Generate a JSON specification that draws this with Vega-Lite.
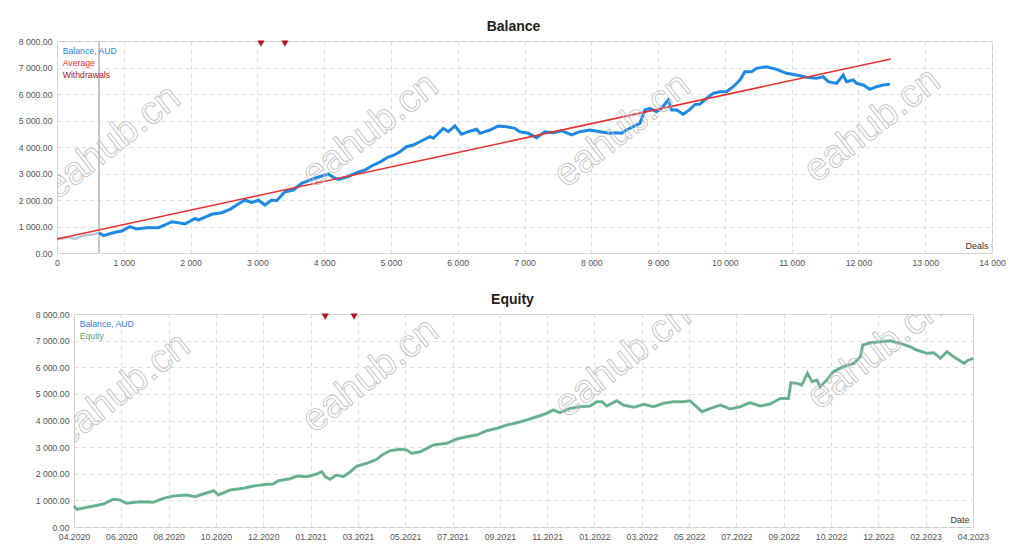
{
  "$schema": "https://vega.github.io/schema/vega-lite/v6.json",
  "padding": {"left": 17, "top": 19, "right": 0, "bottom": 0},
  "background": "white",
  "spacing": 24,
  "config": {
    "font": "Liberation Sans",
    "view": {"stroke": "#c8c8c8"},
    "axis": {
      "labelFont": "Liberation Sans",
      "labelFontSize": 8.7,
      "labelColor": "#555555",
      "domain": false,
      "ticks": false,
      "grid": true,
      "gridColor": "#dddddd",
      "gridDash": [4, 4],
      "labelPadding": 5,
      "titleFont": "Liberation Sans",
      "titleFontSize": 9,
      "titleFontWeight": "normal",
      "titleColor": "#333333"
    },
    "title": {
      "font": "Liberation Sans",
      "fontSize": 14,
      "fontWeight": "bold",
      "color": "#222222",
      "offset": 3,
      "frame": "group",
      "dx": -11
    }
  },
  "resolve": {"scale": {"color": "independent"}},
  "datasets": {
    "early": [
      {"d": 0, "v": 528}, {"d": 100, "v": 560}, {"d": 170, "v": 592}, {"d": 270, "v": 528},
      {"d": 370, "v": 640}, {"d": 470, "v": 680}, {"d": 570, "v": 717}, {"d": 630, "v": 766}
    ],
    "marker": [{"d": 630}],
    "balance": [
      {"d": 630, "v": 766}, {"d": 694, "v": 653}, {"d": 843, "v": 766}, {"d": 968, "v": 830},
      {"d": 1093, "v": 993}, {"d": 1193, "v": 906}, {"d": 1342, "v": 955}, {"d": 1517, "v": 955},
      {"d": 1617, "v": 1057}, {"d": 1717, "v": 1181}, {"d": 1816, "v": 1143}, {"d": 1916, "v": 1094},
      {"d": 2066, "v": 1308}, {"d": 2115, "v": 1245}, {"d": 2316, "v": 1460}, {"d": 2465, "v": 1521},
      {"d": 2590, "v": 1648}, {"d": 2690, "v": 1811}, {"d": 2814, "v": 2000}, {"d": 2915, "v": 1898},
      {"d": 3014, "v": 2000}, {"d": 3114, "v": 1811}, {"d": 3214, "v": 2000}, {"d": 3289, "v": 1974},
      {"d": 3413, "v": 2313}, {"d": 3538, "v": 2377}, {"d": 3663, "v": 2630}, {"d": 3813, "v": 2781},
      {"d": 3962, "v": 2906}, {"d": 4062, "v": 2981}, {"d": 4137, "v": 2856}, {"d": 4212, "v": 2781},
      {"d": 4361, "v": 2881}, {"d": 4461, "v": 3008}, {"d": 4611, "v": 3132}, {"d": 4711, "v": 3283},
      {"d": 4835, "v": 3430}, {"d": 4960, "v": 3620}, {"d": 5035, "v": 3680}, {"d": 5135, "v": 3823},
      {"d": 5235, "v": 4011}, {"d": 5335, "v": 4075}, {"d": 5484, "v": 4264}, {"d": 5584, "v": 4389},
      {"d": 5634, "v": 4328}, {"d": 5784, "v": 4705}, {"d": 5859, "v": 4577}, {"d": 5958, "v": 4792},
      {"d": 6058, "v": 4479}, {"d": 6158, "v": 4577}, {"d": 6283, "v": 4668}, {"d": 6332, "v": 4517},
      {"d": 6482, "v": 4642}, {"d": 6607, "v": 4792}, {"d": 6732, "v": 4766}, {"d": 6856, "v": 4705},
      {"d": 6931, "v": 4577}, {"d": 7056, "v": 4517}, {"d": 7181, "v": 4352}, {"d": 7305, "v": 4577},
      {"d": 7430, "v": 4540}, {"d": 7555, "v": 4615}, {"d": 7705, "v": 4453}, {"d": 7829, "v": 4577},
      {"d": 7979, "v": 4642}, {"d": 8129, "v": 4577}, {"d": 8278, "v": 4517}, {"d": 8378, "v": 4540},
      {"d": 8453, "v": 4517}, {"d": 8528, "v": 4642}, {"d": 8628, "v": 4766}, {"d": 8728, "v": 4893},
      {"d": 8802, "v": 5396}, {"d": 8877, "v": 5460}, {"d": 8977, "v": 5333}, {"d": 9052, "v": 5460},
      {"d": 9152, "v": 5774}, {"d": 9202, "v": 5396}, {"d": 9277, "v": 5396}, {"d": 9377, "v": 5234},
      {"d": 9476, "v": 5420}, {"d": 9551, "v": 5600}, {"d": 9626, "v": 5620}, {"d": 9726, "v": 5837},
      {"d": 9826, "v": 6026}, {"d": 9925, "v": 6087}, {"d": 10025, "v": 6087}, {"d": 10125, "v": 6275},
      {"d": 10225, "v": 6528}, {"d": 10299, "v": 6842}, {"d": 10399, "v": 6842}, {"d": 10474, "v": 6968},
      {"d": 10624, "v": 7031}, {"d": 10774, "v": 6931}, {"d": 10923, "v": 6781}, {"d": 11073, "v": 6717},
      {"d": 11223, "v": 6629}, {"d": 11373, "v": 6591}, {"d": 11472, "v": 6654}, {"d": 11547, "v": 6465},
      {"d": 11672, "v": 6402}, {"d": 11772, "v": 6717}, {"d": 11822, "v": 6465}, {"d": 11921, "v": 6528},
      {"d": 11971, "v": 6402}, {"d": 12071, "v": 6340}, {"d": 12171, "v": 6176}, {"d": 12271, "v": 6275},
      {"d": 12371, "v": 6340}, {"d": 12470, "v": 6365}
    ],
    "average": [{"d": 0, "v": 528}, {"d": 12485, "v": 7321}],
    "withdrawTop": [{"d": 3054, "v": 7900}, {"d": 3413, "v": 7900}],
    "wmTop": [
      {"d": 823, "v": 4189}, {"d": 4686, "v": 4642}, {"d": 8458, "v": 4642}, {"d": 12201, "v": 4830}
    ],
    "equity": [
      {"i": 0, "v": 789}, {"i": 0.06, "v": 665}, {"i": 0.34, "v": 763}, {"i": 0.62, "v": 864},
      {"i": 0.83, "v": 1040}, {"i": 0.97, "v": 1014}, {"i": 1.11, "v": 890}, {"i": 1.4, "v": 950},
      {"i": 1.68, "v": 927}, {"i": 1.89, "v": 1077}, {"i": 2.1, "v": 1164}, {"i": 2.38, "v": 1202},
      {"i": 2.56, "v": 1138}, {"i": 2.73, "v": 1239}, {"i": 2.95, "v": 1363}, {"i": 3.05, "v": 1202},
      {"i": 3.3, "v": 1389}, {"i": 3.58, "v": 1453}, {"i": 3.79, "v": 1540}, {"i": 4.07, "v": 1603},
      {"i": 4.21, "v": 1615}, {"i": 4.32, "v": 1739}, {"i": 4.57, "v": 1814}, {"i": 4.71, "v": 1915},
      {"i": 4.92, "v": 1889}, {"i": 5.13, "v": 1990}, {"i": 5.24, "v": 2077}, {"i": 5.31, "v": 1889},
      {"i": 5.41, "v": 1791}, {"i": 5.55, "v": 1953}, {"i": 5.69, "v": 1889}, {"i": 5.84, "v": 2077},
      {"i": 5.98, "v": 2291}, {"i": 6.19, "v": 2392}, {"i": 6.4, "v": 2542}, {"i": 6.51, "v": 2704},
      {"i": 6.61, "v": 2800}, {"i": 6.68, "v": 2866}, {"i": 6.89, "v": 2918}, {"i": 7.03, "v": 2892},
      {"i": 7.14, "v": 2768}, {"i": 7.32, "v": 2828}, {"i": 7.6, "v": 3079}, {"i": 7.88, "v": 3143},
      {"i": 8.09, "v": 3305}, {"i": 8.3, "v": 3391}, {"i": 8.51, "v": 3455}, {"i": 8.72, "v": 3616},
      {"i": 8.94, "v": 3706}, {"i": 9.15, "v": 3830}, {"i": 9.36, "v": 3917}, {"i": 9.57, "v": 4018},
      {"i": 9.78, "v": 4142}, {"i": 9.99, "v": 4269}, {"i": 10.13, "v": 4394}, {"i": 10.27, "v": 4292},
      {"i": 10.49, "v": 4457}, {"i": 10.7, "v": 4518}, {"i": 10.91, "v": 4544}, {"i": 11.05, "v": 4705},
      {"i": 11.16, "v": 4705}, {"i": 11.26, "v": 4544}, {"i": 11.47, "v": 4743}, {"i": 11.61, "v": 4581},
      {"i": 11.83, "v": 4495}, {"i": 12.04, "v": 4608}, {"i": 12.25, "v": 4518}, {"i": 12.46, "v": 4645},
      {"i": 12.67, "v": 4705}, {"i": 12.88, "v": 4705}, {"i": 13.02, "v": 4743}, {"i": 13.27, "v": 4330},
      {"i": 13.45, "v": 4457}, {"i": 13.66, "v": 4581}, {"i": 13.87, "v": 4431}, {"i": 14.08, "v": 4518},
      {"i": 14.29, "v": 4668}, {"i": 14.5, "v": 4544}, {"i": 14.71, "v": 4619}, {"i": 14.93, "v": 4831},
      {"i": 15.1, "v": 4831}, {"i": 15.15, "v": 5419}, {"i": 15.28, "v": 5395}, {"i": 15.38, "v": 5332},
      {"i": 15.5, "v": 5771}, {"i": 15.6, "v": 5456}, {"i": 15.7, "v": 5520}, {"i": 15.77, "v": 5268},
      {"i": 15.91, "v": 5520}, {"i": 16.05, "v": 5832}, {"i": 16.26, "v": 6020}, {"i": 16.48, "v": 6147},
      {"i": 16.62, "v": 6395}, {"i": 16.67, "v": 6834}, {"i": 16.83, "v": 6921}, {"i": 17.04, "v": 6959},
      {"i": 17.25, "v": 6996}, {"i": 17.46, "v": 6898}, {"i": 17.67, "v": 6771}, {"i": 17.81, "v": 6647},
      {"i": 18.03, "v": 6522}, {"i": 18.17, "v": 6546}, {"i": 18.31, "v": 6335}, {"i": 18.45, "v": 6583},
      {"i": 18.59, "v": 6395}, {"i": 18.81, "v": 6147}, {"i": 18.88, "v": 6245}, {"i": 19, "v": 6335}
    ],
    "withdrawBottom": [{"i": 5.31, "v": 7900}, {"i": 5.92, "v": 7900}],
    "wmBottom": [
      {"i": 1.01, "v": 5145}, {"i": 6.26, "v": 5708}, {"i": 11.59, "v": 6271}, {"i": 16.93, "v": 6572}
    ]
  },
  "vconcat": [
    {
      "title": "Balance",
      "width": 935,
      "height": 212,
      "encoding": {
        "x": {
          "field": "d",
          "type": "quantitative",
          "scale": {"domain": [0, 14000], "nice": false},
          "axis": {
            "values": [0, 1000, 2000, 3000, 4000, 5000, 6000, 7000, 8000, 9000, 10000, 11000, 12000, 13000, 14000],
            "labelExpr": "replace(format(datum.value, ','), ',', ' ')",
            "labelFlush": false,
            "title": "Deals",
            "titleX": 931,
            "titleY": -3,
            "titleAlign": "right",
            "titleBaseline": "bottom"
          }
        },
        "y": {
          "field": "v",
          "type": "quantitative",
          "scale": {"domain": [0, 8000], "nice": false},
          "axis": {
            "values": [0, 1000, 2000, 3000, 4000, 5000, 6000, 7000, 8000],
            "labelExpr": "replace(format(datum.value, ',.2f'), ',', ' ')",
            "title": null
          }
        }
      },
      "layer": [
        {
          "data": {"name": "early"},
          "mark": {"type": "line", "strokeWidth": 2.5, "color": "#bcc8d8"}
        },
        {
          "data": {"name": "marker"},
          "mark": {"type": "rule", "color": "#b4b4b4", "strokeWidth": 1.5},
          "encoding": {"y": null}
        },
        {
          "data": {"name": "balance"},
          "mark": {"type": "line", "strokeWidth": 3},
          "encoding": {
            "color": {
              "datum": "Balance, AUD",
              "type": "nominal",
              "scale": {
                "domain": ["Balance, AUD", "Average", "Withdrawals"],
                "range": ["#1e88e5", "#e8302e", "#b0151e"]
              },
              "legend": {
                "orient": "top-left",
                "title": null,
                "offset": 6,
                "padding": 0,
                "symbolSize": 0,
                "symbolOpacity": 0,
                "symbolStrokeWidth": 0,
                "labelOffset": -9,
                "labelFont": "Liberation Sans",
                "labelFontSize": 8.7,
                "rowPadding": 2,
                "labelColor": {"expr": "datum.value === 'Average' ? '#e8302e' : datum.value === 'Withdrawals' ? '#b0151e' : '#2f80d8'"}
              }
            }
          }
        },
        {
          "data": {"name": "average"},
          "mark": {"type": "line", "strokeWidth": 1.5},
          "encoding": {"color": {"datum": "Average", "type": "nominal"}}
        },
        {
          "data": {"name": "withdrawTop"},
          "mark": {"type": "point", "shape": "triangle-down", "filled": true, "size": 50, "opacity": 1},
          "encoding": {"color": {"datum": "Withdrawals", "type": "nominal"}}
        },
        {
          "data": {"name": "wmTop"},
          "mark": {
            "type": "text",
            "text": "eahub.cn",
            "angle": -38,
            "font": "Liberation Sans",
            "fontSize": 39,
            "fill": "#ffffff",
            "fillOpacity": 0,
            "stroke": "#bdbdbd",
            "strokeWidth": 0.8,
            "align": "center",
            "baseline": "middle",
            "clip": true
          }
        }
      ]
    },
    {
      "spacing": -24,
      "resolve": {"scale": {"color": "independent"}, "legend": {"color": "independent"}},
      "hconcat": [
        {
          "width": 1,
          "height": 213,
          "view": {"stroke": null},
          "data": {"values": [{}]},
          "mark": {"type": "text", "text": ""},
          "encoding": {}
        },
        {
          "title": "Equity",
          "width": 899,
          "height": 213,
          "encoding": {
            "x": {
              "field": "i",
              "type": "quantitative",
              "scale": {"domain": [0, 19], "nice": false},
              "axis": {
                "values": [0, 1, 2, 3, 4, 5, 6, 7, 8, 9, 10, 11, 12, 13, 14, 15, 16, 17, 18, 19],
                "labelExpr": "['04.2020','06.2020','08.2020','10.2020','12.2020','01.2021','03.2021','05.2021','07.2021','09.2021','11.2021','01.2022','03.2022','05.2022','07.2022','09.2022','10.2022','12.2022','02.2023','04.2023'][datum.value]",
                "labelFlush": false,
                "title": "Date",
                "titleX": 895,
                "titleY": -3,
                "titleAlign": "right",
                "titleBaseline": "bottom"
              }
            },
            "y": {
              "field": "v",
              "type": "quantitative",
              "scale": {"domain": [0, 8000], "nice": false},
              "axis": {
                "values": [0, 1000, 2000, 3000, 4000, 5000, 6000, 7000, 8000],
                "labelExpr": "replace(format(datum.value, ',.2f'), ',', ' ')",
                "title": null
              }
            }
          },
          "layer": [
            {
              "data": {"name": "equity"},
              "mark": {"type": "line", "strokeWidth": 1.5},
              "encoding": {
                "color": {
                  "datum": "Balance, AUD",
                  "type": "nominal",
                  "scale": {
                    "domain": ["Balance, AUD", "Equity"],
                    "range": ["#2f80d8", "#68b08a"]
                  },
                  "legend": {
                    "orient": "top-left",
                    "title": null,
                    "offset": 6,
                    "padding": 0,
                    "symbolSize": 0,
                    "symbolOpacity": 0,
                    "symbolStrokeWidth": 0,
                    "labelOffset": -9,
                    "labelFont": "Liberation Sans",
                    "labelFontSize": 8.7,
                    "rowPadding": 2,
                    "labelColor": {"expr": "datum.value === 'Equity' ? '#5fa36d' : '#2f80d8'"}
                  }
                }
              }
            },
            {
              "data": {"name": "equity"},
              "mark": {"type": "line", "strokeWidth": 3, "opacity": 0.9},
              "encoding": {"color": {"datum": "Equity", "type": "nominal"}}
            },
            {
              "data": {"name": "withdrawBottom"},
              "mark": {"type": "point", "shape": "triangle-down", "filled": true, "size": 50, "opacity": 1, "color": "#b0151e"}
            },
            {
              "data": {"name": "wmBottom"},
              "mark": {
                "type": "text",
                "text": "eahub.cn",
                "angle": -38,
                "font": "Liberation Sans",
                "fontSize": 39,
                "fill": "#ffffff",
                "fillOpacity": 0,
                "stroke": "#bdbdbd",
                "strokeWidth": 0.8,
                "align": "center",
                "baseline": "middle",
                "clip": true
              }
            }
          ]
        }
      ]
    }
  ]
}
